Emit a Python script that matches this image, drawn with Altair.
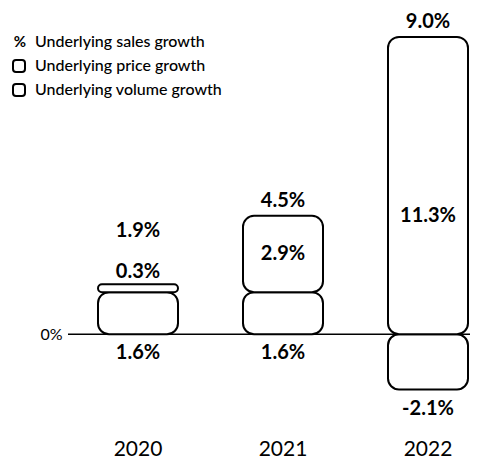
import altair as alt
import pandas as pd

years = ["2020", "2021", "2022"]
volume_growth = [1.6, 1.6, -2.1]
price_growth = [0.3, 2.9, 11.3]
sales_growth = [1.9, 4.5, 9.0]
legend_labels = ["Underlying sales growth", "Underlying price growth", "Underlying volume growth"]

FONT = "Lato"

# bar segments
rows = []
for y, v, p in zip(years, volume_growth, price_growth):
    base = max(v, 0)
    rows.append({"year": y, "part": "volume", "y0": 0.0, "y1": v})
    rows.append({"year": y, "part": "price", "y0": base, "y1": base + p})
bars_df = pd.DataFrame(rows)

lab = pd.DataFrame({"year": years, "vol": volume_growth, "price": price_growth, "sales": sales_growth})
lab["base"] = lab["vol"].clip(lower=0)
lab["top"] = lab["base"] + lab["price"]
lab["bottom"] = lab["vol"].clip(upper=0)
lab["mid"] = (lab["base"] + lab["sales"]) / 2
lab["inside"] = lab["price"] >= 1
lab["vol_t"] = lab["vol"].map(lambda v: f"{v:.1f}%")
lab["price_t"] = lab["price"].map(lambda v: f"{v:.1f}%")
lab["sales_t"] = lab["sales"].map(lambda v: f"{v:.1f}%")
lab_in = lab[lab["inside"]]
lab_out = lab[~lab["inside"]]

x_enc = alt.X(
    "year:N",
    sort=years,
    scale=alt.Scale(range=[-2.5, 432.5], paddingInner=0, paddingOuter=0),
    axis=alt.Axis(title=None, labelAngle=0, domain=False, ticks=False, grid=False,
                  labelFontSize=21, labelFont=FONT, labelColor="black", labelPadding=9),
)
y_scale = alt.Scale(domain=[-3.6, 12.4], nice=False, zero=False)

zero_rule = alt.Chart(pd.DataFrame({"z": [0]})).mark_rule(color="black", strokeWidth=1.5).encode(
    y=alt.Y("z:Q", scale=y_scale,
            axis=alt.Axis(title=None, values=[0], labelExpr="'0%'", domain=False, ticks=False,
                          grid=False, labelFontSize=16, labelFont=FONT, labelColor="black",
                          labelPadding=6))
)

bars = alt.Chart(bars_df).mark_bar(
    width=80, cornerRadius=11, fill="white", stroke="black", strokeWidth=2
).encode(
    x=x_enc,
    y=alt.Y("y0:Q", scale=y_scale),
    y2="y1:Q",
)

def txt(df, field, text, dy):
    return alt.Chart(df).mark_text(
        font=FONT, fontSize=20, fontWeight="bold", color="black", baseline="middle", dy=dy
    ).encode(x=alt.X("year:N", sort=years), y=alt.Y(f"{field}:Q", scale=y_scale), text=f"{text}:N")

t_sales_in = txt(lab_in, "top", "sales_t", -15)
t_sales_out = txt(lab_out, "top", "sales_t", -53)
t_price_in = txt(lab_in, "mid", "price_t", 0)
t_price_out = txt(lab_out, "top", "price_t", -12)
t_vol = txt(lab, "bottom", "vol_t", 19)

dummy = pd.DataFrame({"a": [0]})
legend_text = alt.Chart(dummy).mark_text(
    text="\n".join(legend_labels), lineBreak="\n", lineHeight=24, font=FONT, fontSize=16,
    fontWeight=500, color="black", align="left", baseline="middle"
).encode(x=alt.value(35 - 68), y=alt.value(42 - 8))
legend_pct = alt.Chart(dummy).mark_text(
    text="%", font=FONT, fontSize=15, fontWeight="bold", color="black", align="center", baseline="middle"
).encode(x=alt.value(20 - 68), y=alt.value(42 - 8))
sq1 = alt.Chart(dummy).mark_rect(cornerRadius=3, fill="white", stroke="black", strokeWidth=2).encode(
    x=alt.value(13 - 68), x2=alt.value(25 - 68), y=alt.value(60 - 8), y2=alt.value(72 - 8))
sq2 = alt.Chart(dummy).mark_rect(cornerRadius=3, fill="white", stroke="black", strokeWidth=2).encode(
    x=alt.value(13 - 68), x2=alt.value(25 - 68), y=alt.value(84 - 8), y2=alt.value(96 - 8))

chart = alt.layer(
    zero_rule, bars, t_sales_in, t_sales_out, t_price_in, t_price_out, t_vol,
    legend_text, legend_pct, sq1, sq2
).properties(
    width=402, height=421,
    padding={"left": 60, "top": 0, "right": 0, "bottom": 29},
    autosize=alt.AutoSizeParams(type="none"),
    background="white",
).configure_view(stroke=None)

chart.save("out.html", embed_options={"renderer": "svg", "actions": False})
